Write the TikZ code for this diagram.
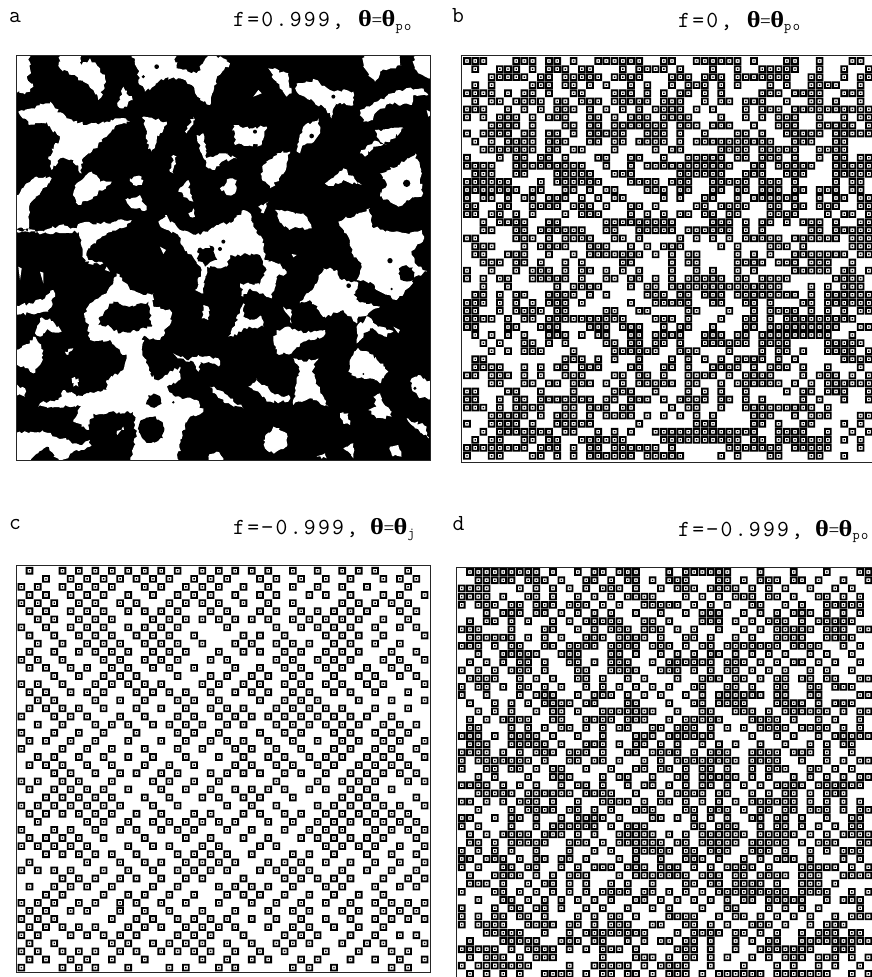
\documentclass[tikz,border=0pt]{standalone}
\usepackage{fontspec}
\usepackage{graphicx}
\setmonofont{Latin Modern Mono}[LetterSpace=10]
\newfontfamily\thetafont{Liberation Serif}
\usetikzlibrary{decorations.pathmorphing}
\newcount\lcc \newcount\lrr
\newdimen\lox \newdimen\loy \newdimen\ldx \newdimen\ldy \newdimen\lcx \newdimen\lcy
\def\panelat#1#2#3#4{\lox=#1pt \loy=#2pt \ldx=#3pt \ldy=#4pt \lrr=0 }
\def\docell{\lcx=\lox \advance\lcx by \lcc\ldx
 \pgfpathrectangle{\pgfqpoint{\dimexpr\lcx-3.8pt\relax}{\dimexpr-\lcy-3.8pt\relax}}{\pgfqpoint{7.6pt}{7.6pt}}%
 \pgfpathrectangle{\pgfqpoint{\dimexpr\lcx-1.95pt\relax}{\dimexpr-\lcy-1.95pt\relax}}{\pgfqpoint{3.9pt}{3.9pt}}%
 \pgfpathrectangle{\pgfqpoint{\dimexpr\lcx-0.7pt\relax}{\dimexpr-\lcy-0.7pt\relax}}{\pgfqpoint{1.4pt}{1.4pt}}}
\def\lrit#1-#2-#3\relax{\lcc=#1 \ifx\relax#2\relax\docell\else\loop\docell\ifnum\lcc<#2 \advance\lcc by 1 \repeat\fi}
\def\lrnext#1,{\ifx\end#1\relax\else\lrit#1--\relax\expandafter\lrnext\fi}
\def\CR#1{\begin{pgfscope}\pgfseteorule\lcy=\loy \advance\lcy by \lrr\ldy \lrnext#1,\end,\pgfusepath{fill}\end{pgfscope}\advance\lrr by 1 }
\newcommand\thetaeq[1]{{\thetafont\bfseries\fontsize{23}{23}\selectfont\scalebox{1.15}[1]{θ}}\hspace{-0.5pt}{\thetafont\fontsize{19}{19}\selectfont=}\hspace{-0.5pt}{\thetafont\bfseries\fontsize{23}{23}\selectfont\scalebox{1.15}[1]{θ}}\raisebox{-3.5pt}{\fontsize{14}{14}\selectfont #1}}
\tikzset{
 tag/.style={anchor=base west,inner sep=0pt,font=\ttfamily\fontsize{23}{23}\selectfont},
 frame/.style={draw=black!85,line width=0.9pt},
 hole/.style={fill=white,decorate,decoration={random steps,segment length=2.6pt,amplitude=1.7pt}},
 isle/.style={fill=black,decorate,decoration={random steps,segment length=2.6pt,amplitude=1.7pt}},
 speck/.style={fill=white},
 dot/.style={fill=black}
}
\begin{document}
\begin{tikzpicture}[x=1pt,y=-1pt]
\useasboundingbox (0,0) rectangle (871,977);
\fill[white] (0,0) rectangle (871,977);
% labels
\node[tag] (la) at (9,22.6) {a};
\node[tag] (ta) at (233,27) {\makebox[125pt][l]{f=0.999,}\thetaeq{po}};
\node[tag] (lb) at (452,22.6) {b};
\node[tag] (tb) at (678,27.3) {\makebox[68.7pt][l]{f=0,}\thetaeq{po}};
\node[tag] (lc) at (9,529) {c};
\node[tag] (tc) at (233,534) {\makebox[137pt][l]{f=−0.999,}\thetaeq{j}};
\node[tag] (ld) at (452.5,530) {d};
\node[tag] (td) at (678,536) {\makebox[137pt][l]{f=−0.999,}\thetaeq{po}};
% panel a
\pgfmathsetseed{4242}
\begin{scope}
\clip (16.7,55.7) rectangle (430,460.5);
\fill[black] (16.7,55.7) rectangle (430,460.5);
\begin{scope}[shift={(10,50)},x=0.33333pt,y=-0.33333pt]
\path[hole] (10,10)--(58,10)--(62,65)--(50,80)--(70,110)--(60,125)--(40,130)--(10,125)--cycle;
\path[hole] (148,10)--(210,10)--(215,45)--(240,25)--(270,55)--(285,85)--(280,120)--(265,150)--(250,120)--(220,95)--(185,75)--(150,55)--cycle;
\path[hole] (340,110)--(368,150)--(340,175)--(322,165)--cycle;
\path[hole] (365,10)--(495,10)--(500,55)--(560,70)--(600,10)--(640,25)--(660,40)--(620,85)--(610,125)--(600,165)--(570,150)--(545,105)--(510,85)--(465,85)--(405,125)--(385,90)--(385,60)--cycle;
\path[hole] (775,55)--(835,70)--(845,130)--(830,140)--(800,95)--cycle;
\path[hole] (860,100)--(920,90)--(960,120)--(1030,125)--(1030,165)--(975,160)--(965,205)--(945,175)--(900,150)--(860,125)--cycle;
\path[hole] (1060,10)--(1165,10)--(1175,45)--(1110,65)--(1095,95)--(1060,50)--cycle;
\path[hole] (1215,10)--(1270,10)--(1270,85)--(1225,70)--(1212,45)--cycle;
\path[hole] (1050,180)--(1100,155)--(1170,120)--(1235,115)--(1255,135)--(1210,135)--(1205,165)--(1140,160)--(1100,185)--(1085,210)--(1060,215)--cycle;
\path[hole] (25,185)--(65,175)--(120,155)--(135,175)--(170,205)--(230,225)--(290,215)--(330,205)--(360,215)--(320,225)--(290,260)--(240,310)--(215,330)--(215,370)--(190,330)--(150,325)--(125,360)--(115,320)--(150,265)--(110,215)--(60,225)--(30,195)--cycle;
\path[hole] (400,200)--(470,215)--(440,270)--(425,305)--(410,280)--(405,230)--cycle;
\path[hole] (670,225)--(720,235)--(770,230)--(755,285)--(675,285)--cycle;
\path[hole] (860,300)--(880,230)--(925,205)--(930,240)--(915,270)--(880,285)--(870,310)--cycle;
\path[hole] (760,345)--(800,310)--(840,305)--(830,350)--(800,395)--(780,415)--(755,385)--cycle;
\path[hole] (1050,310)--(1090,275)--(1130,285)--(1100,260)--(1095,240)--(1180,235)--(1140,275)--(1090,290)--(1065,320)--cycle;
\path[hole] (585,325)--(640,310)--(680,325)--(635,335)--(615,360)--(595,355)--cycle;
\path[hole] (560,255)--(580,250)--(590,330)--(575,310)--cycle;
\path[hole] (490,315)--(500,320)--(490,370)--(480,365)--cycle;
\path[hole] (525,245)--(550,200)--(555,210)--(530,250)--cycle;
\path[hole] (945,400)--(1000,355)--(1040,395)--(1055,405)--(1000,390)--(965,408)--cycle;
\path[hole] (1110,370)--(1165,345)--(1215,310)--(1230,350)--(1235,440)--(1190,450)--(1165,470)--(1110,440)--(1130,400)--cycle;
\path[hole] (200,400)--(245,365)--(270,395)--(305,395)--(250,440)--(205,465)--(190,430)--cycle;
\path[hole] (10,450)--(50,400)--(80,380)--(125,385)--(90,430)--(60,460)--(55,500)--(60,535)--(10,535)--cycle;
\path[hole] (360,385)--(395,380)--(395,405)--(370,405)--cycle;
\path[hole] (345,450)--(390,435)--(410,480)--(370,475)--cycle;
\path[hole] (630,415)--(660,385)--(680,390)--(675,430)--(650,435)--cycle;
\path[hole] (505,425)--(535,390)--(540,430)--(550,455)--(520,435)--cycle;
\path[hole] (535,490)--(550,475)--(555,500)--(540,500)--cycle;
\path[hole] (745,470)--(775,455)--(760,490)--cycle;
\path[hole] (445,515)--(465,495)--(510,540)--(570,555)--(620,525)--(670,515)--(700,480)--(725,500)--(730,530)--(760,570)--(765,630)--(810,640)--(830,670)--(800,680)--(785,745)--(760,730)--(720,715)--(700,740)--(690,700)--(750,705)--(770,660)--(750,615)--(660,615)--(650,650)--(590,650)--(585,680)--(580,730)--(555,720)--(575,660)--(560,640)--(520,590)--(505,555)--(460,535)--cycle;
\path[hole] (795,480)--(880,490)--(905,535)--(835,535)--(815,520)--cycle;
\path[hole] (985,515)--(1080,475)--(1085,530)--(1140,545)--(1190,550)--(1235,540)--(1240,570)--(1205,610)--(1225,650)--(1250,665)--(1215,680)--(1200,710)--(1160,750)--(1110,725)--(1080,695)--(1040,690)--(1055,640)--(1030,615)--(1015,560)--cycle;
\path[hole] (870,760)--(925,690)--(940,655)--(980,660)--(995,690)--(1040,695)--(1040,750)--(1110,770)--(1075,790)--(1045,800)--(1040,820)--(1000,780)--(945,800)--(900,750)--cycle;
\path[hole] (1040,830)--(1075,800)--(1100,825)--(1150,845)--(1125,860)--(1080,835)--(1040,880)--cycle;
\path[hole] (1020,930)--(1045,895)--(1075,905)--(1125,950)--(1135,965)--(1110,1000)--(1080,985)--(1040,985)--(1015,965)--cycle;
\path[hole] (790,870)--(800,840)--(835,830)--(880,850)--(945,840)--(940,860)--(880,875)--(845,910)--(800,910)--cycle;
\path[hole] (850,925)--(880,935)--(925,925)--(905,965)--(930,1020)--(955,1070)--(900,1045)--(850,1065)--(860,1000)--(870,965)--cycle;
\path[hole] (715,1010)--(740,985)--(790,1030)--(840,1040)--(835,1055)--(770,1055)--(750,1030)--cycle;
\path[hole] (222,790)--(240,760)--(290,730)--(320,670)--(360,720)--(400,735)--(430,730)--(430,770)--(480,780)--(485,810)--(450,870)--(400,860)--(395,900)--(420,970)--(440,990)--(510,950)--(510,990)--(470,1010)--(495,1040)--(560,1050)--(580,1085)--(540,1100)--(520,1140)--(500,1240)--(360,1240)--(378,1150)--(370,1085)--(250,1090)--(235,1140)--(190,1110)--(215,1070)--(85,1070)--(90,1060)--(145,1050)--(165,1020)--(200,1040)--(290,1020)--(290,990)--(340,960)--(350,920)--(300,870)--(240,870)--(235,830)--cycle;
\path[isle] (270,800)--(310,755)--(370,770)--(415,755)--(425,830)--(330,850)--(300,830)--(265,825)--cycle;
\path[isle] (425,1140) circle (38);
\path[isle] (432,1052) circle (20);
\path[hole] (320,1150)--(340,1130)--(342,1140)--(322,1155)--cycle;
\path[hole] (10,1145)--(100,1145)--(170,1170)--(210,1185)--(240,1170)--(240,1190)--(200,1200)--(150,1240)--(110,1190)--(70,1220)--(55,1240)--(10,1240)--cycle;
\path[hole] (580,765)--(595,770)--(595,810)--(575,805)--cycle;
\path[hole] (655,860)--(690,790)--(700,760)--(700,800)--(720,810)--(755,800)--(760,830)--(700,835)--(670,860)--cycle;
\path[hole] (820,770)--(845,780)--(845,820)--(830,790)--cycle;
\path[hole] (10,770)--(60,760)--(105,745)--(130,720)--(135,730)--(115,785)--(60,790)--(10,795)--cycle;
\path[hole] (75,850)--(90,805)--(120,805)--(155,845)--(110,840)--(90,860)--cycle;
\path[hole] (10,900)--(60,880)--(70,860)--(100,900)--(90,945)--(70,970)--(10,935)--cycle;
\path[hole] (10,1005)--(45,1015)--(45,1040)--(10,1035)--cycle;
\path[hole] (185,985)--(205,985)--(205,1010)--(190,1010)--cycle;
\path[hole] (165,905)--(190,895)--(175,915)--cycle;
\path[hole] (490,910)--(530,930)--(565,915)--(625,925)--(630,945)--(570,935)--(565,965)--(550,935)--(510,925)--cycle;
\path[hole] (600,1010)--(640,1025)--(700,1075)--(640,1055)--(615,1030)--cycle;
\path[hole] (760,1170)--(790,1130)--(830,1150)--(830,1190)--(790,1210)--(765,1195)--cycle;
\path[hole] (595,1220)--(620,1205)--(640,1225)--(640,1240)--(595,1240)--cycle;
\path[hole] (1205,985)--(1225,975)--(1270,1000)--(1270,1050)--(1225,1040)--(1205,1015)--cycle;
\path[hole] (1090,1040)--(1110,1030)--(1120,1060)--(1145,1085)--(1145,1100)--(1100,1105)--(1075,1080)--(1100,1070)--cycle;
\path[hole] (990,1090)--(1015,1090)--(1020,1125)--(1000,1120)--cycle;
\path[hole] (1190,1105)--(1250,1130)--(1255,1165)--(1215,1135)--cycle;
\path[hole] (1140,1190)--(1165,1185)--(1175,1220)--(1145,1215)--cycle;
\path[hole] (920,1220)--(945,1210)--(950,1225)--cycle;
\path[hole] (1000,1195)--(1030,1180)--(1030,1225)--(1015,1205)--cycle;
\path[hole] (10,540)--(100,545)--(150,525)--(200,535)--(210,520)--(290,520)--(340,510)--(365,510)--(350,530)--(290,550)--(260,570)--(230,605)--(235,630)--(280,640)--(270,645)--(225,635)--(215,590)--(205,545)--(110,550)--(10,545)--cycle;
\path[speck] (25,650)--(35,655)--(30,690)--cycle (90,665)--(100,668)--(100,700)--cycle (745,120)--(755,130)--(730,140)--cycle (1250,180)--(1270,190)--(1255,200)--cycle (450,590)--(468,600)--(460,612)--cycle (290,650)--(300,665)--(285,660)--cycle (845,612)--(860,615)--(850,622)--cycle (1170,840)--(1150,830)--(1165,850)--cycle;
\path[dot] (440,50) circle (7) (400,80) circle (5) (970,140) circle (6) (735,245) circle (6) (905,258) circle (7) (1190,400) circle (11) (640,575) circle (6) (630,597) circle (6) (1140,632) circle (8) (1016,707) circle (7) (1145,717) circle (4) (490,1057) circle (4) (1060,972) circle (3) (1215,1015) circle (5);
\path[isle] (565,595)--(610,590)--(622,630)--(585,650)--(565,630)--cycle;
\path[isle] (1190,670) circle (22);
\path[isle] (1065,730) circle (28);
\end{scope}
\end{scope}
\draw[frame] (16.7,55.7) rectangle (430,460.5);
% panel b
\draw[frame] (461.7,55.7) rectangle (875,462);
\panelat{467}{61}{8.2}{8.06}
\CR{0-2,6-8,10,11,13,16-21,24,25,28-33,35,39,40,43,47,48}
\CR{1,4-6,8,10-12,14,15,19,21-24,26,30,33,36-40,43,46,49}
\CR{3-7,9,10,12-16,18-21,25-27,29-31,33-39,42,43,46,48,49}
\CR{1,3,8-10,12,13,15,17,20,22,25,27-29,31,33,37,39,42-45,48}
\CR{0-3,5,7,8,10,13,14,18-20,22,24,26,27,29,31,36-38,40-43,46-48}
\CR{1,3,4,6-9,11,12,14-16,18-22,24-26,29,31,32,34-36,39,42,43,45,48}
\CR{0-2,5,7,9,11-13,15,17,19,21,23-26,28,30,34,36-38,40-49}
\CR{0,2,4-6,8,10-12,15,16,18,20-22,24-27,31,34,36,38-40,43,46,48,49}
\CR{3-6,8,12,13,15,16,18-24,26-28,30-32,35,38-40,43-47,49}
\CR{0,2-5,7,8,10,11,13,15-19,22-24,26,29,33,34,36,39-43,45-49}
\CR{1,3,5-8,10-12,15,16,18,19,21-24,26,28-37,40-42,45,46}
\CR{2-8,10,11,13,14,18,23,25,26,31-34,36-40,43-45,46}
\CR{0,4,6,7,9,10,12,16,17,20,21,24,27-31,33,34,36-38,40,43,45,46,48,49}
\CR{0-3,6-14,17,20,22-32,35,36,38-42,45,46,47-49}
\CR{1-3,6,7,11-15,18-20,26-31,34-36,39-41,45-49}
\CR{0-5,9,11-16,20-23,25-27,30-34,36-38,40,45,47,48}
\CR{0-6,8,9,12,13,15,17,18,22-24,26,27,30,31,33,34,36-38,40,41,43-45,47,48}
\CR{0,2,3,5,7,8,10-12,14,16,18,19,24,26,29,30,33,35-40,43,45,46,48,49}
\CR{0,1,4,5,8-11,13-15,17,20,21,23,28,29,31-34,37,38,40,41,43-45,48,49}
\CR{0,1,3,4,6,8,12,14-16,20,22,24,26,27,29,30,32,33,37-40,44,46,47,49}
\CR{2,4-7,10,11,17-25,30-32,34,36,37,39,41-43,45,48,49}
\CR{2,3,6,7,9-14,17,18,21-25,27-32,34,36,42,43,45-49}
\CR{0,1,6-8,10,12-15,18,19,21,26,28,30,32,34-38,40-45,47-49}
\CR{1-3,7,9-12,15-17,20,22,24-26,31,33,37-39,41,47-49}
\CR{1,2,5-7,10,13,15-21,23,25,27,28,33,35,37,40-46,48,49}
\CR{2-4,6,7,9,12,14,19,20,25,27,28,33-36,38-40,42-44,47}
\CR{0,3,6,8-10,12,14,15,17,19,21,25,28,30,33,35,40-44,46,47,49}
\CR{0,2,4,5,8-12,14,17,18,20,21,23,25,27-31,33,34,36-39,45-48}
\CR{2,5,11,13-16,20,22,23,25-38,42,44,46-48}
\CR{1,2,4,6,7,10-13,15,17,22-24,26,27,29-31,33-40,42,44-49}
\CR{0-2,4,6,8,10-12,14,20,23-27,30,31,34,35,37,41,42,44-49}
\CR{0,1,4,6-9,11,12,17,18,21,22,27,28,32,35,37-40,42,44,46,48,49}
\CR{0-3,5,7,8,10-19,23-25,27,31,34,35,37,39-47}
\CR{0,1,5,6,9-11,15-17,19-21,24,26,27,30,34,35,37-45,48,49}
\CR{1,3,5,7,10-12,14,16,17,20,21,23-26,29-31,33,34,36-44,47}
\CR{2,4,7,8,10,12,17,18,20,21,23,24,26,29-34,36-39,44-48}
\CR{3,5,7-9,13,18-23,26-28,32,36,38,39,41,44-47,49}
\CR{1,2,12-14,16,18,21,25,27,29,31,33-36,38,40,46-49}
\CR{1-4,7,9,11,12,14-16,20,21,24,25,27,30-33,35,37-39,41,44,48}
\CR{0,1,3-5,7,9,12-14,18,19,21,22,24,27-30,32,34-37,41,43-45,47,49}
\CR{3,4,7,8,10,11,13-15,17,19,21-25,27,28,31,33-38,40,42,44-49}
\CR{0,1,5,6,9,13,18-20,23,27,29,31,34,39,41,42,44-46,49}
\CR{0,1,4,6,7,9-15,17,18,20-22,24,26-29,31,32,34,36,41,43,46,49}
\CR{0-2,4,6-9,12,13,15-17,19,20,25,27,28,31,34-42,44}
\CR{3-7,9,11-13,15,17-20,22,24,26,28,30,35-37,40,42-44,48,49}
\CR{0,3-6,8,11-15,21,28-30,35,36,38,41,42,46,48}
\CR{2,4-10,12,13,16,18,20,23-35,38-41,44,47,49}
\CR{1,3,4,7,8,10,11,14-19,24-33,35,36,38-44,46,48}
\CR{0-7,9-11,13,15,16,18-23,25,32-38,40-44,48}
\CR{0,3,4,8,9,11,13,15-20,22-26,31,33,37,38,42,43,46}
% panel c
\draw[frame] (16.7,565.7) rectangle (430,972.7);
\panelat{21.3}{570.7}{8.23}{8.1}
\CR{1,5,7,9,11,13,15,17,19,22,24,26,28,30,33,36,39,41,43,47}
\CR{3,6,8,10,12,14,16,18,21,23,25,29,31,34,37,40,44,46,48}
\CR{0,2,5,7,9,11,15,17,20,22,24,27,30,33,36,39,42,47}
\CR{1,3,6,8,10,13,16,19,21,23,26,29,31,35,37,40,44,46,49}
\CR{0,2,4,7,9,12,14,18,20,22,24,27,30,33,39,41,43,45,47}
\CR{1,3,6,8,10,13,15,17,19,23,25,29,31,34,36,38,40,42,46,48}
\CR{2,4,7,9,11,16,18,20,22,24,26,28,30,33,35,37,39,41,44,47}
\CR{0,3,6,8,10,13,15,17,19,25,31,34,36,38,40,43,46,48}
\CR{1,4,7,9,11,14,16,18,21,27,29,32,37,39,41,44,49}
\CR{2,5,8,10,12,15,17,19,22,26,28,31,33,35,38,40,43,46}
\CR{1,4,7,9,11,13,16,18,20,24,27,29,32,34,37,39,41,45,48}
\CR{0,2,5,10,12,15,17,19,23,25,31,33,36,38,40,44,46,49}
\CR{1,3,6,8,11,13,16,18,21,26,29,32,34,37,39,42,45,47}
\CR{4,7,10,12,14,19,23,25,28,30,33,35,38,41,43,46,48}
\CR{0,2,5,9,11,13,15,17,22,24,27,29,32,34,37,39,42,44,49}
\CR{1,3,6,8,10,14,16,18,20,23,26,28,30,33,35,38,40,43,47}
\CR{2,4,9,12,15,19,21,24,29,32,34,36,41,45,49}
\CR{1,3,5,7,10,14,17,20,23,25,27,31,33,35,37,39,43,47}
\CR{0,4,6,8,12,15,19,21,24,26,28,30,32,34,36,38,40,42,45}
\CR{2,5,9,11,13,16,18,20,22,25,27,31,33,35,37,39,41,44,46,48}
\CR{0,4,7,10,14,19,21,24,29,32,34,38,40,43,45,47}
\CR{1,3,6,9,13,17,20,23,25,27,30,33,36,39,41,44,46,49}
\CR{0,5,8,11,15,19,22,26,28,31,34,38,40,43,45,48}
\CR{2,4,7,10,13,16,20,24,27,30,32,35,37,39,42,44,46,49}
\CR{1,3,5,8,11,15,18,21,26,28,31,33,36,38,41,43,45,47}
\CR{4,6,9,12,14,17,19,23,25,27,29,32,34,37,40,42,44,46,48}
\CR{0,2,5,7,11,16,18,21,24,31,36,39,41,43,47,49}
\CR{1,4,6,8,10,13,17,20,23,26,28,30,32,35,37,40,42,45}
\CR{3,5,7,9,11,15,18,22,24,27,29,33,39,41,43,48}
\CR{0,2,4,6,8,10,12,16,19,25,28,31,36,38,40,42,44,46,49}
\CR{1,3,5,7,9,11,14,17,21,23,27,29,32,34,37,39,41,43,45,47}
\CR{2,8,10,13,16,18,20,22,24,26,30,33,36,38,40,42,44,46,48}
\CR{0,4,6,9,12,14,17,19,21,25,28,32,35,37,39,43,45,47,49}
\CR{1,3,5,7,10,15,20,23,27,30,34,36,38,40,42,44,48}
\CR{0,2,4,6,8,13,16,18,22,24,29,31,37,39,41,43,46,49}
\CR{3,5,7,9,11,14,19,21,23,25,28,33,35,38,42,45,48}
\CR{1,8,12,15,17,20,22,24,26,30,32,34,37,40,43,46,49}
\CR{0,2,4,6,10,13,16,19,21,23,25,29,31,33,35,39,42,45,48}
\CR{5,7,9,12,14,17,20,22,27,32,34,36,38,40,44,47,49}
\CR{1,4,6,8,11,16,19,24,26,28,30,33,37,39,43,46,48}
\CR{3,5,10,13,15,18,21,25,27,29,32,35,38,41,44}
\CR{0,2,4,7,9,12,14,17,20,24,28,31,34,37,40,43,45,47,49}
\CR{1,3,6,8,12,15,18,22,26,30,33,35,39,41,44,46,48}
\CR{0,2,4,11,14,16,19,21,23,25,28,31,34,37,40,43,45,47,49}
\CR{1,3,5,7,9,13,15,17,20,22,24,26,30,33,35,38,41,44}
\CR{0,2,6,8,10,12,14,19,21,23,27,32,34,36,40,43,46,48}
\CR{1,4,11,13,16,18,20,22,25,28,31,33,35,39,42,44,49}
\CR{0,2,5,7,9,12,14,17,19,21,23,26,29,32,37,41,45,47}
\CR{1,3,6,8,11,15,22,25,28,30,34,36,40,43,46,49}
\CR{0,5,7,9,13,18,20,24,26,33,35,38,45,47}
% panel d
\draw[frame] (875,567.3) -- (456.7,567.3) -- (456.7,980);
\panelat{461.7}{572}{8.3}{8.2}
\CR{1-9,11,14,16,17,19-21,25,27-32,36,40,44,48,49}
\CR{2-6,8-10,12,15,16,18,20,21,23,25-27,31,32,34,36-38,40,41,43,46,49}
\CR{0-3,7,9,11,13,15,17-19,21,24,26-28,30-33,35,37,39,42,45,47}
\CR{0-3,5,8,9,11,14,16,18,20-23,27,29,31,33-35,37,38,40,43,44,46,48}
\CR{0,2-4,6,7,9-11,13-15,17,19,22-26,28,30,32,35,36,39,41,44-48}
\CR{3,5-7,9,10,12,14,16,18,21,24,27,29-31,34,36,38,40-42,44,46,48}
\CR{1,3,4,6,8,11,13,15-19,22,23,25,29-31,33,35,37-39,41,43-47}
\CR{0-2,6,10,11,14,16,18-20,22-24,26,28,31,34,36,38-42,44-46,48,49}
\CR{1-6,8,10,12,15-17,19-22,24,27,28,30,33,35,38-41,44-47}
\CR{0-2,4,6,7,10,11,13-16,18-21,23-25,27,29,30,32-38,40-43,46,48}
\CR{2,5-9,12-14,18,19,21,24,26,28,30,31,33,35,37,39,42,44,47}
\CR{1,3,5,7,8,10,13,14,16,18-20,23,25-30,32-34,36,38,40,41,43,45,48}
\CR{0,2,4,6-8,10,14,15,18-21,24-26,28,30,32,33,35,37,39,42,44,47}
\CR{1-4,7,9,11,14,15,17,20,22,26,29-31,33,34,36,38,39,41,42,44,45,48,49}
\CR{0,2,3,5,7,8,10,12,15,17,19,21,23,25,28,29,32,33,35,38,39,42,43,45-47}
\CR{0,3,7,9-11,14,16-18,20,22,24,27,29,31-36,38,39,42,43,48,49}
\CR{1,4,6,8,10-13,15,16,20,21,25,28,29,31-34,38-41,43,45-47}
\CR{2,4,6,9,11,12,14,17-23,26,29,30,33-35,37,39-44,46,48,49}
\CR{1,3,5-8,11,12,15-18,20-22,25,27-31,35-38,40,43,45,48}
\CR{1,2,6,8,10,12,13,15,17,19,20,23,24,26-28,30,32,34,36-39,41-44,46,48}
\CR{0-2,4,6-9,11,14,17,21-23,25-30,35,38,40,43,45-49}
\CR{1-3,6-10,12,15-17,19,21,22,24,26,29,31,33,36,39,42,44,46,47}
\CR{0-3,5,7,9-11,13-15,17,20,21,23-26,28,30-32,35-38,40-42,44,47}
\CR{0,2-8,10,13,14,16,17,19,22,24,26-33,35-38,41,44,46,48,49}
\CR{0,3,4,6,7,9,11,12,15,18,21,22,24,25,27,29,30,32,35,37-39,42,43,45,47}
\CR{2,4,8,11-13,17,19,20,23,26,27,29-33,35,37,40,42,44,46,48,49}
\CR{0-3,5,7,9,12,14,15,17,20,22,23,25,27,29,30,32,34,36,38-41,43-48}
\CR{2-6,8-13,15-18,21,24,26-29,31,32,35,37,39,40,42,44-46}
\CR{0,1,3,5,7-9,11,14,17-20,22,24,25,27,29,31,33,35-40,42,44,46,48}
\CR{2,6,8-11,13,14,16,18,21-23,27,28,30-32,34,36,37,39,40,42-44,46,48,49}
\CR{0,1,4,6,7,9,12,14-17,19,23,24,26,28,30,32,35,36,38,39,41,44,47,48}
\CR{0,2,6,9,11-16,18,20-22,28,29,31-33,36,38,39,41,43,45,47,48}
\CR{1,3,5-8,10-12,14,16,19-23,25,27,29-34,36-40,42,44,46-49}
\CR{1,2,4,6-10,13-15,17,19-24,26,27,29-33,35-39,41,43-45,48,49}
\CR{0,2,4,6,9,13,16,18,21-25,27,28,30-32,35-37,39,42,44,46-48}
\CR{0,1,3-5,7,9,10,12,13,15,19,21,24,27-29,31,34,36,38-40,42,46,48}
\CR{0,2,5,6,8,9,12,14,16-18,20-22,24-26,28,30,32-35,37,41-45,47,49}
\CR{1,4-7,9,11,13-15,19,21-27,29-31,33,34,36-39,41-43,46-49}
\CR{1-3,5,8,10,11,13,15,18,20,23,27,28,30,31,33-36,38,41-43,45}
\CR{0,4,5,7,9,11,13,15,17-20,22,23,25,27,29,31-39,41-44,47,49}
\CR{2,5,6,8,10,12,14,16,18,21,22,24,26,28,30,32,34,35,37-41,44,46-48}
\CR{0,4,6,7,9,10,12,15,17,20,23,25,29,32,33,37,39,41,43,48}
\CR{0,2,4,5,7,8,10,14,16,18,19,21,25-28,31,33,34,36,38,40,42,45,47-49}
\CR{0,2-5,8-11,13,14,16,18-20,23,24,27,28,30,32,35-37,39,42,44-46}
\CR{3-7,10,13,15-22,26,28-31,33,34,36,38,41,43-45,47,48}
\CR{1,5-9,12-14,16,17,20,22,24,25,27,28,30,33,35,37,38,41-49}
\CR{0-4,6,8-11,13,15,17-19,21,26-28,30,33,36-42,45-47}
\CR{1,3-5,7,9-11,17,21-23,25,27,28,30,32,35,37,39-41,43-45,47,49}
\CR{0,2-8,13,16-20,22,24-27,30,34,38,40,43,45,48}
\CR{1,3,5,7,10-13,15,17,18,20,21,23,25-27,29,31-36,38-44,47,49}
\end{tikzpicture}
\end{document}
